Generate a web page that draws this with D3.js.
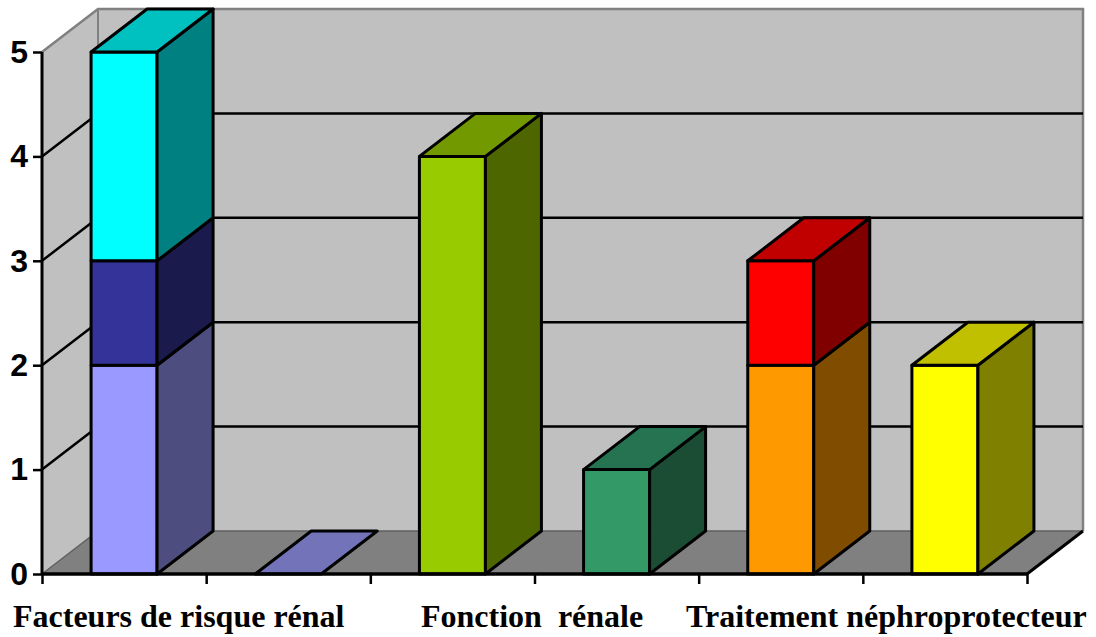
<!DOCTYPE html>
<html><head><meta charset="utf-8">
<script src="https://cdn.jsdelivr.net/npm/d3@7/dist/d3.min.js"></script>
<style>html,body{margin:0;background:#fff}svg{display:block}</style>
</head><body><svg id="c" width="1096" height="637"></svg>
<script>
const barNames = ["b1","b2","b3","b4","b5","b6"];
const segValue1 = [2,0,4,1,2,2];
const segValue2 = [1,0,0,0,1,0];
const segValue3 = [2,0,0,0,0,0];
const frontColor1 = ["#9999ff","#9999ff","#99cc00","#339966","#ff9900","#ffff00"];
const frontColor2 = ["#333399",null,null,null,"#ff0000",null];
const frontColor3 = ["#00ffff",null,null,null,null,null];
const sideColor1 = ["#4d4d80","#4d4d80","#4d6600","#1a4d33","#804d00","#808000"];
const sideColor2 = ["#1a1a4d",null,null,null,"#800000",null];
const sideColor3 = ["#008080",null,null,null,null,null];
const topColor = ["#00c0c0","#7373b9","#739900","#267352","#c00000","#c0c000"];
const yTicks = [0,1,2,3,4,5];
const groupLabels = ["Facteurs de risque rénal","Fonction  rénale","Traitement néphroprotecteur"];

const labelX = [13,421,686];
const L=42,R=1027,T=52,B=574,DX=56,DY=-43,BW=66;
const svg=d3.select("#c");
const x=d3.scaleBand().domain(barNames).range([L,R]);
const y=d3.scaleLinear().domain([0,5]).range([B,T]);
const pts=a=>a.map(p=>p.join(",")).join(" ");
const poly=(g,a,f,s,w)=>g.append("polygon").attr("points",pts(a)).attr("fill",f)
  .attr("stroke",s||"none").attr("stroke-width",w||0).attr("stroke-linejoin","round");

// walls and floor
poly(svg,[[L+DX,T+DY],[R+DX,T+DY],[R+DX,B+DY],[L+DX,B+DY]],"#c0c0c0");
poly(svg,[[L,T],[L+DX,T+DY],[L+DX,B+DY],[L,B]],"#c0c0c0");
poly(svg,[[L,B],[L+DX,B+DY],[R+DX,B+DY],[R,B]],"#808080");
const edge=(a,c,w)=>svg.append("polyline").attr("points",pts(a)).attr("fill","none").attr("stroke",c).attr("stroke-width",w);
edge([[L,T],[L+DX,T+DY],[R+DX,T+DY],[R+DX,B+DY]],"#808080",2.5);
edge([[L+DX,T+DY],[L+DX,B+DY]],"#808080",2);
edge([[L,B],[L+DX,B+DY],[R+DX,B+DY]],"#606060",1.5);

// gridlines
yTicks.filter(t=>t>0&&t<5).forEach(t=>{
  edge([[L,y(t)],[L+DX,y(t)+DY],[R+DX,y(t)+DY]],"#000",2.5);
});
edge([[R,B],[R+DX,B+DY]],"#000",3);

// bars
const bars=svg.append("g");
const W=x.bandwidth();
barNames.forEach((n,i)=>{
  const g=bars.append("g");
  const x0=x(n)+(W-BW)/2,x1=x0+BW;
  const vals=[segValue1[i],segValue2[i],segValue3[i]];
  const fr=[frontColor1[i],frontColor2[i],frontColor3[i]];
  const si=[sideColor1[i],sideColor2[i],sideColor3[i]];
  let base=0;
  vals.forEach((v,k)=>{
    if(!v)return;
    const a=y(base),b=y(base+v);
    poly(g,[[x0,b],[x1,b],[x1,a],[x0,a]],fr[k],"#000",3);
    poly(g,[[x1,b],[x1+DX,b+DY],[x1+DX,a+DY],[x1,a]],si[k],"#000",3);
    base+=v;
  });
  const t=y(base);
  poly(g,[[x0,t],[x0+DX,t+DY],[x1+DX,t+DY],[x1,t]],topColor[i],"#000",3);
});

// axes
const gy=svg.append("g").attr("transform",`translate(${L},0)`)
  .call(d3.axisLeft(y).tickValues(yTicks).tickSize(9).tickPadding(5).tickFormat(d3.format("d")));
gy.selectAll("path").attr("stroke","#000").attr("stroke-width",3).attr("d",`M0,${T}V${B}`);
gy.selectAll("line").attr("stroke","#000").attr("stroke-width",2.5);
gy.selectAll("text").attr("font-family","Liberation Sans").attr("font-weight","bold").attr("font-size",32).attr("fill","#000");

const tickPos=[...barNames.map(n=>x(n)),R];
const gx=svg.append("g").attr("transform",`translate(0,${B})`)
  .call(d3.axisBottom(d3.scaleLinear().domain([L,R]).range([L,R])).tickValues(tickPos).tickSize(10).tickFormat(""));
gx.selectAll("path").attr("stroke","#000").attr("stroke-width",3.5).attr("d",`M${L},0H${R}`);
gx.selectAll("line").attr("stroke","#000").attr("stroke-width",2.5);

svg.selectAll("text.cat").data(groupLabels).join("text").attr("class","cat")
  .attr("x",(d,i)=>labelX[i]).attr("y",627).style("white-space","pre")
  .attr("font-family","Liberation Serif").attr("font-weight","bold").attr("font-size",32).attr("fill","#000")
  .text(d=>d);
</script></body></html>
